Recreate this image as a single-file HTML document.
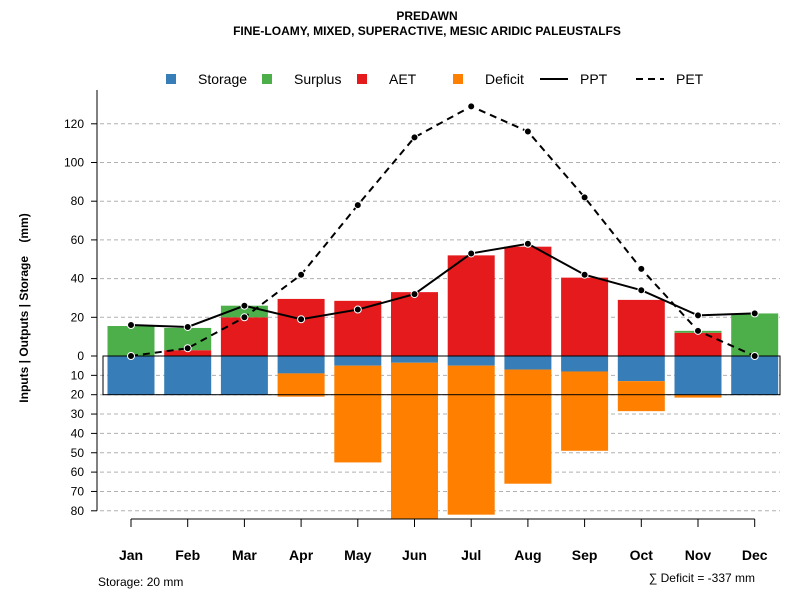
<!DOCTYPE html>
<html><head><meta charset="utf-8"><style>
body{margin:0;background:#fff;font-family:"Liberation Sans",sans-serif}
svg text{font-family:"Liberation Sans",sans-serif}
</style></head><body>
<svg id="c" width="800" height="600" xmlns="http://www.w3.org/2000/svg"></svg>
<script>
const months=["Jan","Feb","Mar","Apr","May","Jun","Jul","Aug","Sep","Oct","Nov","Dec"];
const ppt=[16,15,26,19,24,32,53,58,42,34,21,22];
const pet=[0,4,20,42,78,113,129,116,82,45,13,0];
const aet=[0,3,20,29.5,28.5,33,52,56.5,40.5,29,12,0];
const surplus=[15.5,11.5,6,0,0,0,0,0,0,0,1,22];
const storage=[20,20,20,9,5,3.5,5,7,8,13,20,20];
const deficit=[0,0,0,12,50,80.5,77,59,41,15.5,1.5,0];
const upTicks=[0,20,40,60,80,100,120];
const downTicks=[10,20,30,40,50,60,70,80];
const svg=document.getElementById('c');
const NS='http://www.w3.org/2000/svg';
const y0=356,k=1.935;
const yUp=v=>y0-v*k, yDn=v=>y0+v*k;
const xc=i=>131+i*56.7;
const bw=47;
function el(t,a,txt){const e=document.createElementNS(NS,t);for(const n in a)e.setAttribute(n,a[n]);if(txt!==undefined)e.textContent=txt;svg.appendChild(e);return e;}
function tx(x,y,s,a){return el('text',Object.assign({x:x,y:y,'font-size':13,fill:'#000'},a||{}),s);}
let t=tx(427,20,'PREDAWN',{'text-anchor':'middle','font-weight':'bold','font-size':12});

t=tx(427,35,'FINE-LOAMY, MIXED, SUPERACTIVE, MESIC ARIDIC PALEUSTALFS',{'text-anchor':'middle','font-weight':'bold','font-size':12});

upTicks.forEach(v=>{if(v>0){const g=el('line',{x1:100,x2:780,y1:yUp(v),y2:yUp(v),stroke:'#b0b0b0','stroke-dasharray':'4,3'});}
 el('line',{x1:91,x2:97,y1:yUp(v),y2:yUp(v),stroke:'#000'});
 const l=tx(84,yUp(v)+4,String(v),{'text-anchor':'end','font-size':12});});
downTicks.forEach(v=>{const g=el('line',{x1:100,x2:780,y1:yDn(v),y2:yDn(v),stroke:'#b0b0b0','stroke-dasharray':'4,3'});
 el('line',{x1:91,x2:97,y1:yDn(v),y2:yDn(v),stroke:'#000'});
 const l=tx(84,yDn(v)+4,String(v),{'text-anchor':'end','font-size':12});});
el('line',{x1:97,x2:97,y1:90,y2:yDn(80),stroke:'#000'});
months.forEach((m,i)=>{
 const x=xc(i)-bw/2;
 let r;
 if(aet[i]>0){r=el('rect',{x:x,y:yUp(aet[i]),width:bw,height:aet[i]*k,fill:'#e41a1c'});}
 if(surplus[i]>0){r=el('rect',{x:x,y:yUp(aet[i]+surplus[i]),width:bw,height:surplus[i]*k,fill:'#4daf4a'});}
 r=el('rect',{x:x,y:y0,width:bw,height:storage[i]*k,fill:'#377eb8'});
 if(deficit[i]>0){r=el('rect',{x:x,y:yDn(storage[i]),width:bw,height:deficit[i]*k,fill:'#ff7f00'});}
 el('line',{x1:xc(i),x2:xc(i),y1:519,y2:527,stroke:'#000'});
 const l=tx(xc(i),560,m,{'text-anchor':'middle','font-weight':'bold','font-size':14});
});
el('line',{x1:xc(0),x2:xc(11),y1:519,y2:519,stroke:'#000'});
let box=el('rect',{x:103,y:y0,width:677,height:20*k,fill:'none',stroke:'#000','stroke-width':1});

let p=el('polyline',{points:ppt.map((v,i)=>xc(i)+','+yUp(v)).join(' '),fill:'none',stroke:'#000','stroke-width':2});

p=el('polyline',{points:pet.map((v,i)=>xc(i)+','+yUp(v)).join(' '),fill:'none',stroke:'#000','stroke-width':2,'stroke-dasharray':'7,5'});

ppt.forEach((v,i)=>{const c=el('circle',{cx:xc(i),cy:yUp(v),r:3.5,fill:'#000',stroke:'#fff','stroke-width':1});});
pet.forEach((v,i)=>{const c=el('circle',{cx:xc(i),cy:yUp(v),r:3.5,fill:'#000',stroke:'#fff','stroke-width':1});});
t=tx(0,0,'Inputs | Outputs | Storage\u00a0\u00a0\u00a0\u00a0(mm)',{'font-weight':'bold','font-size':12,'text-anchor':'middle',transform:'translate(28,308) rotate(-90)'});

const leg=[['Storage','#377eb8',171,198],['Surplus','#4daf4a',267,294],['AET','#e41a1c',362,389],['Deficit','#ff7f00',458,485]];
leg.forEach(d=>{const g=el('rect',{x:d[2]-5,y:74,width:10,height:10,fill:d[1]});
 const l=tx(d[3],84,d[0],{'font-size':14});});
el('line',{x1:540,x2:568,y1:79,y2:79,stroke:'#000','stroke-width':2});
t=tx(580,84,'PPT',{'font-size':14});
el('line',{x1:636,x2:664,y1:79,y2:79,stroke:'#000','stroke-width':2,'stroke-dasharray':'7,5'});
t=tx(676,84,'PET',{'font-size':14});
t=tx(98,586,'Storage: 20 mm',{'font-size':12});
t=tx(755,582,'∑ Deficit = -337 mm',{'font-size':12,'text-anchor':'end'});
</script>
</body></html>
